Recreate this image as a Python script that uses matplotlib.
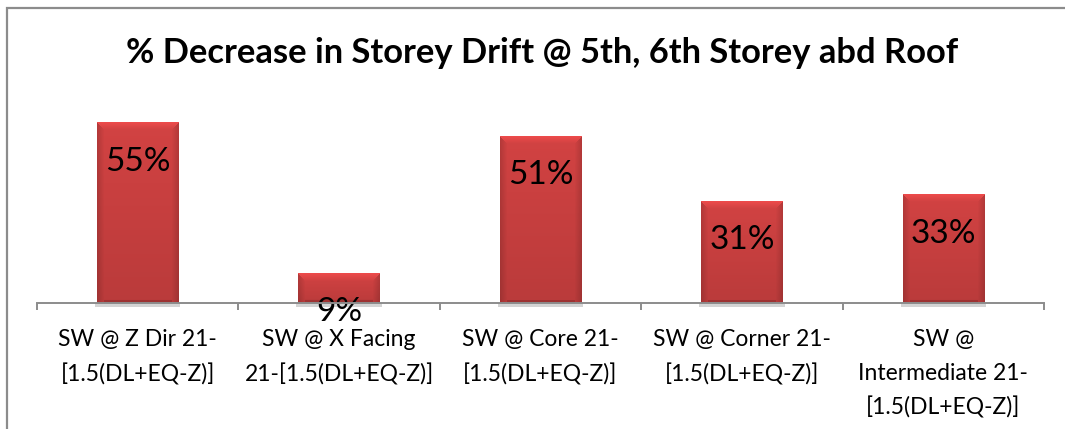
import numpy as np
import matplotlib
matplotlib.use("Agg")
import matplotlib.pyplot as plt
from matplotlib.patches import Rectangle

# data
categories = [
    "SW @ Z Dir 21-\n[1.5(DL+EQ-Z)]",
    "SW @ X Facing\n21-[1.5(DL+EQ-Z)]",
    "SW @ Core 21-\n[1.5(DL+EQ-Z)]",
    "SW @ Corner 21-\n[1.5(DL+EQ-Z)]",
    "SW @\nIntermediate 21-\n[1.5(DL+EQ-Z)]",
]
decrease_pct = [55, 9, 51, 31, 33]
title = "% Decrease in Storey Drift @ 5th, 6th Storey abd Roof"

plt.rcParams['font.family'] = ['Lato', 'DejaVu Sans']

W, H = 1065, 429
YMAX = 62
fig = plt.figure(figsize=(W / 100, H / 100), dpi=100)

# chart border (cropped at right and bottom)
fig.patches.append(Rectangle((7 / W, -0.1), 1.2, 1 - 8 / H + 0.1, transform=fig.transFigure,
                             fill=False, edgecolor='#8c8c8c', linewidth=1.6))

ax_w_px, ax_h_px = 1044 - 37, 203
ax = fig.add_axes([37 / W, (H - 303) / H, ax_w_px / W, ax_h_px / H])
x = np.arange(len(categories))
bars = ax.bar(x, decrease_pct, width=0.405, color='#c83c3c', zorder=2)

px_per_x = ax_w_px / len(categories)
px_per_y = ax_h_px / YMAX
base = np.array([202, 64, 64]) / 255

def bar_image(wp, hp, bev=7):
    # simple bevel: lighter top, darker sides / bottom
    img = np.zeros((hp, wp, 3))
    rows = np.arange(hp)[:, None]
    cols = np.arange(wp)[None, :]
    dt, db = rows, hp - 1 - rows
    dl, dr = cols, wp - 1 - cols
    ds = np.minimum(dl, dr)
    f = np.ones((hp, wp)) * (1.04 - 0.12 * rows / max(hp, 1))
    top = (dt < bev) & (dt <= ds)
    side = (ds < bev) & ~top
    f = np.where(top, 1.17 - 0.02 * dt, f)
    f = np.where(side, f * (0.86 + 0.02 * ds), f)
    f = np.where((db < 3) & ~side, f * 0.85, f)
    img[:] = base[None, None, :] * f[:, :, None]
    return np.clip(img, 0, 1)

for b in bars:
    x0, w, h = b.get_x(), b.get_width(), b.get_height()
    wp = int(round(w * px_per_x))
    hp = max(int(round(h * px_per_y)), 2)
    ax.imshow(bar_image(wp, hp), extent=(x0, x0 + w, 0, h), aspect='auto', zorder=3,
              interpolation='bilinear')
    ax.add_patch(Rectangle((x0 - 0.01, -1.3), w + 0.02, 1.3, facecolor='#d4d4d4',
                           edgecolor='none', zorder=1, clip_on=False))
    ax.annotate(f"{h:.0f}%", (x0 + w / 2, h), xytext=(0, -34.5), textcoords='offset points',
                ha='center', va='baseline', fontsize=24, color='black', zorder=5)

ax.set_xlim(-0.5, len(categories) - 0.5)
ax.set_ylim(0, YMAX)
for s in ['top', 'left', 'right']:
    ax.spines[s].set_visible(False)
ax.spines['bottom'].set_color('#8c8c8c')
ax.spines['bottom'].set_linewidth(1.4)
ax.spines['bottom'].set_zorder(6)
ax.set_yticks([])

ax.set_xticks(x)
ax.set_xticklabels(categories, fontsize=16.5, linespacing=1.72)
ax.tick_params(axis='x', which='major', length=0, pad=19)
ax.set_xticks(np.arange(-0.5, len(categories)), minor=True)
ax.tick_params(axis='x', which='minor', length=5, width=1.4, color='#8c8c8c')

fig.text((37 + 1044) / 2 / W + 2 / W, 1 - 63 / H, title, ha='center', va='baseline',
         fontsize=24.8, fontweight='bold')

fig.savefig("out.png", dpi=100)
